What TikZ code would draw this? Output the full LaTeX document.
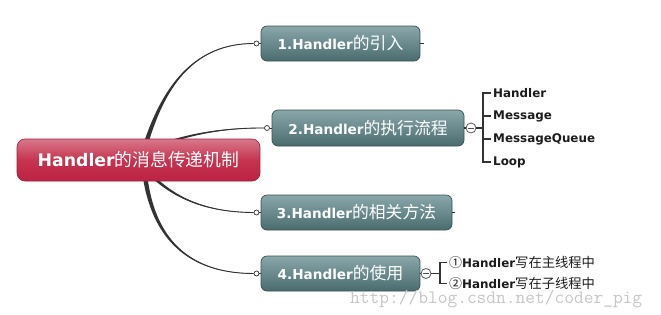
\documentclass[tikz,border=0pt]{standalone}
\usepackage{fontspec}
\setmainfont{DejaVu Sans}
\newfontfamily\cjk{Noto Sans CJK SC}
\newcommand\zhs[2]{{\cjk\mdseries\fontsize{#1}{#1}\selectfont #2}}
\definecolor{boxtop}{HTML}{8AA7AA}
\definecolor{boxbot}{HTML}{4A6C6F}
\definecolor{boxborder}{HTML}{3C5153}
\definecolor{roottop}{HTML}{D8788C}
\definecolor{rootmid}{HTML}{C5344F}
\definecolor{rootbot}{HTML}{BC2244}
\definecolor{rootborder}{HTML}{A31D3B}
\definecolor{curvecol}{HTML}{333333}
\definecolor{childcol}{HTML}{1C1C1C}
\tikzset{
  topic/.style={draw=boxborder, line width=0.7pt, rounded corners=6pt,
    top color=boxtop, bottom color=boxbot, text=white,
    font=\bfseries\fontsize{13.6}{16}\selectfont, inner sep=0pt, minimum height=35pt},
  rootbox/.style={draw=rootborder, line width=0.6pt, rounded corners=8pt,
    top color=roottop, bottom color=rootbot, middle color=rootmid, text=white,
    font=\bfseries\fontsize{17.3}{20}\selectfont, inner sep=0pt,
    minimum width=243pt, minimum height=42pt},
  knob/.style={circle, draw=curvecol, fill=white, line width=0.7pt, inner sep=0pt, minimum size=5pt},
  minusknob/.style={circle, draw=black!65, fill=white, line width=0.8pt, inner sep=0pt, minimum size=10pt,
    path picture={\draw[line width=1pt, black!70] ([xshift=-2.6pt]path picture bounding box.center) -- ([xshift=2.6pt]path picture bounding box.center);}},
  thinline/.style={draw=curvecol, line width=0.9pt},
  bracketline/.style={draw=curvecol, line width=1.1pt},
  child/.style={anchor=west, inner sep=2pt, text=childcol, font=\bfseries\fontsize{11.9}{13}\selectfont},
  stubline/.style={draw=curvecol, line width=0.8pt}
}
\begin{document}
\begin{tikzpicture}[x=1pt,y=-1pt]
\useasboundingbox[fill=white] (0,0) rectangle (661,314);

% knobs at the left of each topic
\node[knob] (k1) at (256.5,43.5) {};
\node[knob] (k2) at (267,128) {};
\node[knob] (k3) at (256.5,212.5) {};
\node[knob] (k4) at (256.5,273.5) {};

% tapered connectors from the root
\coordinate (s1a) at (144.7,140); \coordinate (s1b) at (149.3,140); \coordinate (s1) at (147,140);
\fill[curvecol] (s1a) .. controls (163.8,84.6) and (195,43.1) .. (k1.west) .. controls (195,43.9) and (166.2,85.4) .. (s1b) -- cycle;
\draw[thinline] (s1) .. controls (165,85) and (195,43.5) .. (k1.west);

\coordinate (s2a) at (175,138.8); \coordinate (s2b) at (175,141.2); \coordinate (s2) at (175,140);
\fill[curvecol] (s2a) .. controls (205,130.3) and (235,127.5) .. (k2.west) .. controls (235,128.1) and (205,131.7) .. (s2b) -- cycle;
\draw[thinline] (s2) .. controls (205,131) and (235,127.8) .. (k2.west);

\coordinate (s3a) at (151,177); \coordinate (s3b) at (153.6,175.2); \coordinate (s3) at (152.3,176.1);
\fill[curvecol] (s3a) .. controls (179.5,203.6) and (215,212.6) .. (k3.west) .. controls (215,212) and (180.5,202.4) .. (s3b) -- cycle;
\draw[thinline] (s3) .. controls (180,203) and (215,212.3) .. (k3.west);

\coordinate (s4a) at (143,178); \coordinate (s4b) at (147.6,178); \coordinate (s4) at (145.3,178);
\fill[curvecol] (s4a) .. controls (153.8,245.8) and (195,273.9) .. (k4.west) .. controls (195,273.1) and (156.2,244.2) .. (s4b) -- cycle;
\draw[thinline] (s4) .. controls (155,245) and (195,273.5) .. (k4.west);

% root
\node[rootbox] (root) at (138.5,160) {Handler\zhs{17.8}{的消息传递机制}};

% topics
\node[topic, minimum width=159pt] (b1) at (340.5,43.5) {1.Handler\zhs{16.8}{的引入}};
\node[topic, minimum width=192pt, minimum height=36pt] (b2) at (368,128) {2.Handler\zhs{16.8}{的执行流程}};
\node[topic, minimum width=191pt] (b3) at (356.5,212.5) {3.Handler\zhs{16.8}{的相关方法}};
\node[topic, minimum width=159pt] (b4) at (340.5,273.5) {4.Handler\zhs{16.8}{的使用}};

\draw[stubline] (k1.east) -- (b1.west);
\draw[stubline] (k2.east) -- (b2.west);
\draw[stubline] (k3.east) -- (b3.west);
\draw[stubline] (k4.east) -- (b4.west);

% right stubs
\coordinate (e1) at (423.5,43.5);
\coordinate (e3) at (455,212.5);
\draw[stubline] (b1.east) -- (e1);
\draw[stubline] (b3.east) -- (e3);

% topic 2 children
\node[minusknob] (m2) at (471,128) {};
\draw[bracketline] (b2.east) -- (m2.west);
\coordinate (j2) at (483,128);
\node[child] (c21) at (491,93) {Handler};
\node[child] (c22) at (491,116) {Message};
\node[child] (c23) at (491,139) {MessageQueue};
\node[child] (c24) at (491,162) {Loop};
\draw[bracketline] (m2.east) -- (j2);
\draw[bracketline] (c21.west) -- (c21.west -| j2) -- (c24.west -| j2) -- (c24.west);
\draw[bracketline] (c22.west -| j2) -- (c22.west);
\draw[bracketline] (c23.west -| j2) -- (c23.west);

% topic 4 children
\node[minusknob] (m4) at (426,273.5) {};
\draw[bracketline] (b4.east) -- (m4.west);
\coordinate (j4) at (440,273.5);
\node[child] (c41) at (447,262.5) {\zhs{13}{①}Handler\zhs{13.3}{写在主线程中}};
\node[child] (c42) at (447,283.5) {\zhs{13}{②}Handler\zhs{13.3}{写在子线程中}};
\draw[bracketline] (m4.east) -- (j4);
\draw[bracketline] (c41.west) -- (c41.west -| j4) -- (c42.west -| j4) -- (c42.west);

% watermark
\node[anchor=base west, inner sep=0pt, text=black!22, font=\ttfamily\fontsize{18.9}{19}\selectfont] (wm) at (350,303) {http://blog.csdn.net/coder\_pig};
\end{tikzpicture}
\end{document}
